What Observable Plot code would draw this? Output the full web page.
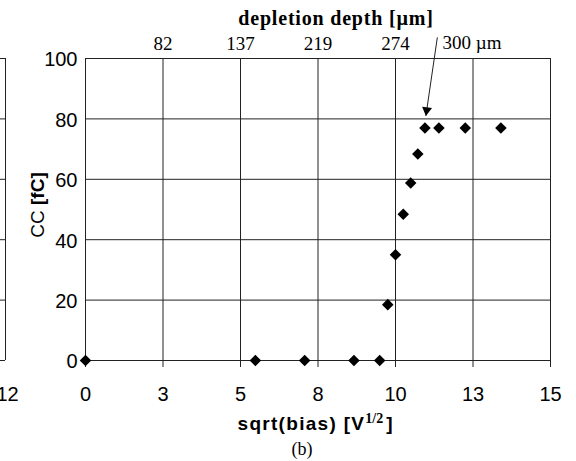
<!DOCTYPE html>
<html><head><meta charset="utf-8">
<script src="https://cdn.jsdelivr.net/npm/d3@7"></script>
<script src="https://cdn.jsdelivr.net/npm/@observablehq/plot@0.6"></script>
<style>
html,body{margin:0;padding:0;background:#fff;}
#wrap{position:relative;width:576px;height:461px;overflow:hidden;background:#fff;}
#wrap svg{position:absolute;left:0;top:0;max-width:none;}
</style></head><body><div id="wrap"></div>
<script>
// data
const sqrtBias = [0, 5.48, 7.07, 8.66, 9.49, 9.75, 10.0, 10.25, 10.49, 10.72, 10.95, 11.4, 12.25, 13.4];
const ccValues = [0, 0, 0, 0, 0, 18.5, 35, 48.4, 58.8, 68.4, 77, 77, 77, 77];
const xTicks = [0, 2.5, 5, 7.5, 10, 12.5, 15];
const xTickLabels = ["0", "3", "5", "8", "10", "13", "15"];
const yTicks = [0, 20, 40, 60, 80, 100];
const depthTicks = [2.5, 5, 7.5, 10];
const depthLabels = ["82", "137", "219", "274"];
const arrowFrom = [11.35, 107];
const arrowTip = [10.98, 81];
const noteLabel = "300 µm";
const notePos = [11.52, 105];
const panelATicks = [12];

const points = sqrtBias.map((x, i) => ({x, y: ccValues[i]}));
const arrow = [{x1: arrowFrom[0], y1: arrowFrom[1], x2: arrowTip[0], y2: arrowTip[1]}];
const note = [{x: notePos[0], y: notePos[1], t: noteLabel}];

const LINE = "#222";
const main = Plot.plot({
  width: 576, height: 461,
  marginTop: 58, marginBottom: 101, marginLeft: 85, marginRight: 26,
  style: {background: "transparent", fontFamily: "'Liberation Sans', Arial, sans-serif", color: "#000"},
  x: {domain: [0, 15]},
  y: {domain: [0, 100]},
  marks: [
    Plot.gridY(yTicks, {stroke: LINE, strokeOpacity: 1}),
    Plot.gridX(xTicks, {stroke: LINE, strokeOpacity: 1}),
    Plot.axisX(xTicks, {tickSize: 7, stroke: LINE, tickPadding: 19, fontSize: 20, label: null,
      tickFormat: d => xTickLabels[xTicks.indexOf(d)]}),
    Plot.axisX(depthTicks, {anchor: "top", tickSize: 0, tickPadding: 9, fontSize: 19, label: null,
      fontFamily: "'Liberation Serif', 'Times New Roman', serif",
      tickFormat: d => depthLabels[depthTicks.indexOf(d)]}),
    Plot.axisY(yTicks, {tickSize: 0, tickPadding: 8, fontSize: 20, dy: 1.5, label: null}),
    Plot.dot(points, {x: "x", y: "y", symbol: "diamond2", fill: "black", stroke: "none", r: 5.2}),
    Plot.link(arrow, {x1: "x1", y1: "y1", x2: "x2", y2: "y2", stroke: LINE, strokeWidth: 1}),
    Plot.dot(arrow, {x: "x2", y: "y2", symbol: "triangle", fill: "black", stroke: "none", r: 3.7, rotate: 188, dx: 0.8, dy: -5.7}),
    Plot.text(note, {x: "x", y: "y", text: "t", textAnchor: "start", fontSize: 19,
      fontFamily: "'Liberation Serif', 'Times New Roman', serif"})
  ]
});

const frag = Plot.plot({
  width: 22, height: 461,
  marginTop: 58, marginBottom: 101, marginLeft: 0, marginRight: 17,
  style: {background: "transparent", fontFamily: "'Liberation Sans', Arial, sans-serif", color: "#000"},
  x: {domain: [11.8, 12]},
  y: {domain: [0, 100], axis: null},
  marks: [
    Plot.ruleY(yTicks, {stroke: LINE}),
    Plot.ruleX(panelATicks, {stroke: LINE}),
    Plot.axisX(panelATicks, {tickSize: 0, tickPadding: 26, fontSize: 20, dx: 2, label: null})
  ]
});

const wrap = document.getElementById("wrap");
wrap.appendChild(main);
wrap.appendChild(frag);

const svg = d3.select(main);
// top title
svg.append("text")
  .attr("x", 336).attr("y", 25)
  .attr("text-anchor", "middle")
  .attr("font-family", "'Liberation Serif', 'Times New Roman', serif")
  .attr("font-weight", "bold").attr("font-size", 20)
  .attr("letter-spacing", 0.8)
  .text("depletion depth [µm]");

// y title
const yt = svg.append("text")
  .attr("transform", "translate(44,205) rotate(-90)")
  .attr("text-anchor", "middle")
  .attr("font-family", "'Liberation Sans', Arial, sans-serif")
  .attr("font-size", 19);
yt.append("tspan").text("CC ");
yt.append("tspan").attr("font-weight", "bold").text("[fC]");

// x title
const xt = svg.append("text")
  .attr("x", 315).attr("y", 430)
  .attr("text-anchor", "middle")
  .attr("font-family", "'Liberation Sans', Arial, sans-serif")
  .attr("font-weight", "bold").attr("font-size", 19);
xt.append("tspan").attr("letter-spacing", 1.3).text("sqrt(bias) [V");
xt.append("tspan").attr("dy", -7).attr("font-size", 14)
  .attr("font-family", "'Liberation Serif', 'Times New Roman', serif").text("1/2");
xt.append("tspan").attr("dy", 7).attr("dx", 3).text("]");

// panel caption
svg.append("text")
  .attr("x", 302).attr("y", 455)
  .attr("text-anchor", "middle")
  .attr("font-family", "'Liberation Serif', 'Times New Roman', serif")
  .attr("font-size", 18)
  .text("(b)");
</script></body></html>
